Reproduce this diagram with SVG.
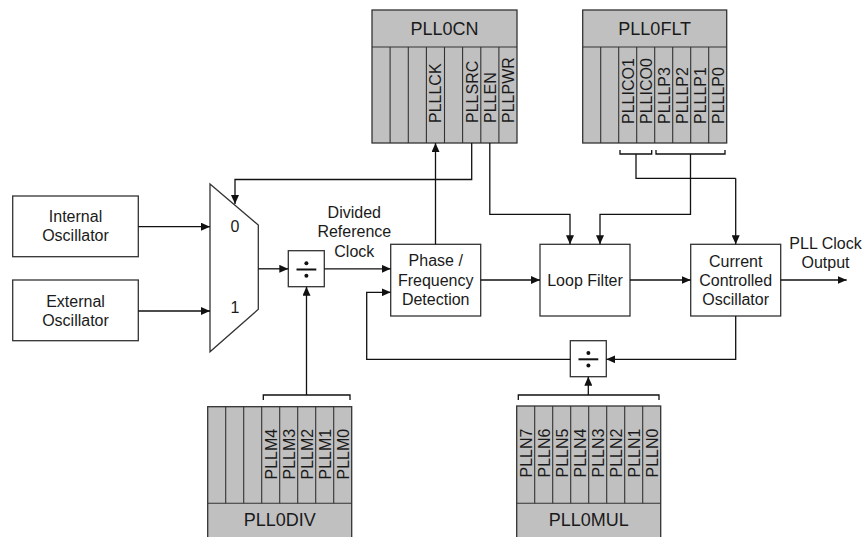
<svg xmlns="http://www.w3.org/2000/svg" width="863" height="537" viewBox="0 0 863 537">
<defs>
<marker id="ah" markerUnits="userSpaceOnUse" viewBox="0 0 9 8" refX="9" refY="4" markerWidth="9" markerHeight="8" orient="auto">
<path d="M0,0 L9,4 L0,8 z" fill="#111"/>
</marker>
</defs>
<style>
text{font-family:"Liberation Sans",Arial,sans-serif;fill:#1a1a1a}
.t{font-size:16px;text-anchor:middle}
.v{font-size:16px}
.h{font-size:18px;text-anchor:middle}
.box{fill:#fff;stroke:#333;stroke-width:1.3}
.reg{fill:#c0c0c0;stroke:#333;stroke-width:1.3}
.div{fill:none;stroke:#333;stroke-width:1.1}
.ln{fill:none;stroke:#111;stroke-width:1.3}
.arr{fill:none;stroke:#111;stroke-width:1.3;marker-end:url(#ah)}
</style>
<rect width="863" height="537" fill="#fff"/>

<g id="internal-osc">
<rect class="box" x="12.7" y="196" width="125.6" height="60.7"/>
<text class="t" x="75.5" y="222.4">Internal</text>
<text class="t" x="75.5" y="241.4">Oscillator</text>
</g>
<g id="external-osc">
<rect class="box" x="12.7" y="280" width="125.6" height="60.7"/>
<text class="t" x="75.5" y="306.7">External</text>
<text class="t" x="75.5" y="325.7">Oscillator</text>
</g>
<g id="mux">
<path class="box" d="M210,184 L258.3,225 L258.3,309.3 L210,351.7 Z"/>
<text class="t" x="235" y="232.4">0</text>
<text class="t" x="235" y="313.4">1</text>
</g>
<g id="ref-divider">
<rect class="box" x="288.3" y="250.7" width="36" height="36"/>
<line x1="296.5" y1="269.5" x2="316.3" y2="269.5" stroke="#111" stroke-width="2"/>
<circle cx="306.4" cy="263.3" r="2" fill="#111"/>
<circle cx="306.4" cy="275.7" r="2" fill="#111"/>
</g>
<g id="divided-ref-label">
<text class="t" x="354.3" y="218.3">Divided</text>
<text class="t" x="354.3" y="237.3">Reference</text>
<text class="t" x="354.3" y="256.7">Clock</text>
</g>
<g id="pfd">
<rect class="box" x="390.7" y="244.3" width="90" height="71.7"/>
<text class="t" x="435.7" y="266.4">Phase /</text>
<text class="t" x="435.7" y="285.7">Frequency</text>
<text class="t" x="435.7" y="305">Detection</text>
</g>
<g id="loop-filter">
<rect class="box" x="540" y="244.3" width="90" height="71.7"/>
<text class="t" x="585" y="285.7">Loop Filter</text>
</g>
<g id="cco">
<rect class="box" x="690.7" y="244.3" width="90" height="71.7"/>
<text class="t" x="735.7" y="266.7">Current</text>
<text class="t" x="735.7" y="285.7">Controlled</text>
<text class="t" x="735.7" y="305">Oscillator</text>
</g>
<g id="output-label">
<text class="t" x="825.5" y="249">PLL Clock</text>
<text class="t" x="825.5" y="268.4">Output</text>
</g>
<g id="fb-divider">
<rect class="box" x="570.3" y="340.7" width="36" height="36"/>
<line x1="578.5" y1="359.3" x2="598.3" y2="359.3" stroke="#111" stroke-width="2"/>
<circle cx="588.4" cy="353.1" r="2" fill="#111"/>
<circle cx="588.4" cy="365.5" r="2" fill="#111"/>
</g>

<g id="pll0cn">
<rect class="reg" x="372" y="10" width="145" height="133"/>
<line class="div" x1="372" y1="47" x2="517" y2="47"/>
<path class="div" d="M390.1,47V143 M408.3,47V143 M426.4,47V143 M444.5,47V143 M462.6,47V143 M480.8,47V143 M498.9,47V143"/>
<text class="h" x="444.5" y="34.8">PLL0CN</text>
<text class="v" transform="translate(441.2,123) rotate(-90)">PLLLCK</text>
<text class="v" transform="translate(477.5,123) rotate(-90)">PLLSRC</text>
<text class="v" transform="translate(495.6,123) rotate(-90)">PLLEN</text>
<text class="v" transform="translate(513.7,123) rotate(-90)">PLLPWR</text>
</g>
<g id="pll0flt">
<rect class="reg" x="582.7" y="10" width="144" height="133"/>
<line class="div" x1="582.7" y1="47" x2="726.7" y2="47"/>
<path class="div" d="M600.7,47V143 M618.7,47V143 M636.7,47V143 M654.7,47V143 M672.7,47V143 M690.7,47V143 M708.7,47V143"/>
<text class="h" x="654.7" y="34.8">PLL0FLT</text>
<text class="v" transform="translate(633.5,124) rotate(-90)">PLLICO1</text>
<text class="v" transform="translate(651.5,124) rotate(-90)">PLLICO0</text>
<text class="v" transform="translate(669.5,124) rotate(-90)">PLLLP3</text>
<text class="v" transform="translate(687.5,124) rotate(-90)">PLLLP2</text>
<text class="v" transform="translate(705.5,124) rotate(-90)">PLLLP1</text>
<text class="v" transform="translate(723.5,124) rotate(-90)">PLLLP0</text>
</g>
<g id="pll0div">
<rect class="reg" x="207.7" y="406.7" width="144" height="140"/>
<line class="div" x1="207.7" y1="503.3" x2="351.7" y2="503.3"/>
<path class="div" d="M225.7,406.7V503.3 M243.7,406.7V503.3 M261.7,406.7V503.3 M279.7,406.7V503.3 M297.7,406.7V503.3 M315.7,406.7V503.3 M333.7,406.7V503.3"/>
<text class="h" x="279.7" y="526">PLL0DIV</text>
<text class="v" transform="translate(276.5,479.5) rotate(-90)">PLLM4</text>
<text class="v" transform="translate(294.5,479.5) rotate(-90)">PLLM3</text>
<text class="v" transform="translate(312.5,479.5) rotate(-90)">PLLM2</text>
<text class="v" transform="translate(330.5,479.5) rotate(-90)">PLLM1</text>
<text class="v" transform="translate(348.5,479.5) rotate(-90)">PLLM0</text>
</g>
<g id="pll0mul">
<rect class="reg" x="516.7" y="406" width="144" height="140"/>
<line class="div" x1="516.7" y1="503.3" x2="660.7" y2="503.3"/>
<path class="div" d="M534.7,406V503.3 M552.7,406V503.3 M570.7,406V503.3 M588.7,406V503.3 M606.7,406V503.3 M624.7,406V503.3 M642.7,406V503.3"/>
<text class="h" x="588.7" y="526">PLL0MUL</text>
<text class="v" transform="translate(531.5,477.5) rotate(-90)">PLLN7</text>
<text class="v" transform="translate(549.5,477.5) rotate(-90)">PLLN6</text>
<text class="v" transform="translate(567.5,477.5) rotate(-90)">PLLN5</text>
<text class="v" transform="translate(585.5,477.5) rotate(-90)">PLLN4</text>
<text class="v" transform="translate(603.5,477.5) rotate(-90)">PLLN3</text>
<text class="v" transform="translate(621.5,477.5) rotate(-90)">PLLN2</text>
<text class="v" transform="translate(639.5,477.5) rotate(-90)">PLLN1</text>
<text class="v" transform="translate(657.5,477.5) rotate(-90)">PLLN0</text>
</g>

<g id="connectors">
<line class="arr" x1="138.3" y1="226.7" x2="210" y2="226.7"/>
<line class="arr" x1="138.3" y1="311" x2="210" y2="311"/>
<line class="arr" x1="258.3" y1="268.8" x2="288.3" y2="268.8"/>
<line class="arr" x1="324.3" y1="268.8" x2="390.7" y2="268.8"/>
<line class="arr" x1="480.7" y1="280" x2="540" y2="280"/>
<line class="arr" x1="630" y1="280" x2="690.7" y2="280"/>
<line class="arr" x1="780.7" y1="280" x2="846.7" y2="280"/>
<line class="arr" x1="435.5" y1="244.3" x2="435.5" y2="143"/>
<path class="arr" d="M471.7,143 V179.5 H235 V204"/>
<path class="arr" d="M489.8,143 V214.3 H570 V244.3"/>
<path class="ln" d="M620,150 V154 H651.7 V150 M636,154 V178.3 H735.7"/>
<path class="ln" d="M656,150 V154 H725 V150"/>
<path class="arr" d="M690.5,154 V214.3 H600 V244.3"/>
<path class="arr" d="M735.7,178.3 V244.3"/>
<path class="arr" d="M735.7,316 V359.3 H606.3"/>
<path class="arr" d="M570.3,359.3 H366.7 V292.3 H390.7"/>
<path class="ln" d="M263.3,400 V395 H350 V400"/>
<path class="arr" d="M306.5,395 V286.7"/>
<path class="ln" d="M518.3,400 V395 H659 V400"/>
<path class="arr" d="M588.3,395 V376.7"/>
</g>
</svg>
